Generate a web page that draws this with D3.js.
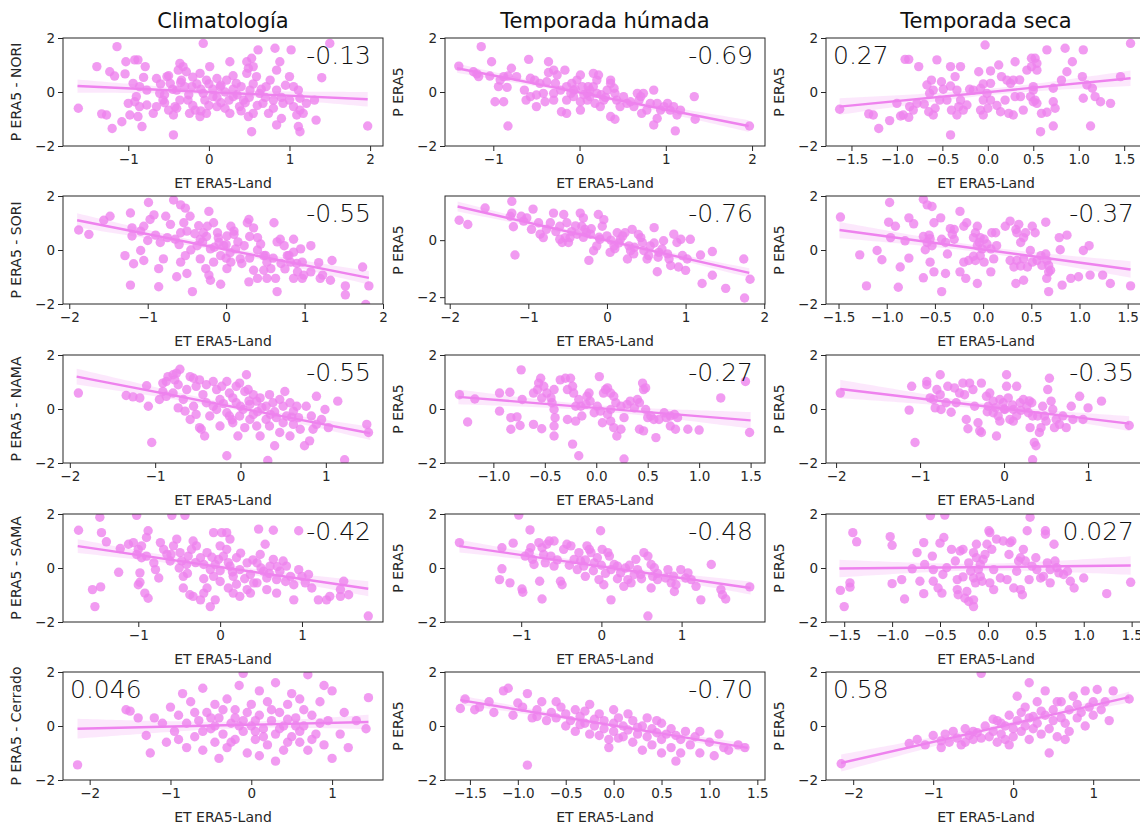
<!DOCTYPE html>
<html><head><meta charset="utf-8">
<script src="https://cdn.jsdelivr.net/npm/d3@7"></script>
<style>body{margin:0;background:#fff;overflow:hidden} text{font-family:"DejaVu Sans",sans-serif}</style>
</head><body><svg id="c" width="1140" height="825"></svg>
<script>
// ---------- DATA ----------
const titles = ["Climatología", "Temporada húmada", "Temporada seca"];
const rowLabels = ["P ERA5 - NORI", "P ERA5 - SORI", "P ERA5 - NAMA", "P ERA5  - SAMA", "P ERA5 - Cerrado"];
const otherYLabel = "P ERA5";
const xLabel = "ET ERA5-Land";
const corrLabels = ["-0.13","-0.69","0.27","-0.55","-0.76","-0.37","-0.55","-0.27","-0.35","-0.42","-0.48","0.027","0.046","-0.70","0.58"];
const corrSide = ["r","r","l","r","r","r","r","r","r","r","r","r","l","r","l"];

const xDomains = [[-1.81,2.16],[-1.56,2.15],[-1.78,1.74],[-2.08,2.0],[-2.06,2.01],[-1.63,1.69],[-2.08,1.67],[-1.47,1.64],[-2.12,1.69],[-1.92,1.99],[-1.95,2.04],[-1.69,1.65],[-2.33,1.63],[-1.76,1.58],[-2.34,1.66]];
const yDomains = [[-2,2],[-2,2],[-2,2],[-2,2],[-2.24,1.55],[-2,2],[-2,2],[-2,2],[-2,2],[-2,2],[-2,2],[-2,2],[-2,2],[-2,2],[-2,2]];
const tInt2 = [-2,-1,0,1,2], tHalf = [-1.5,-1,-0.5,0,0.5,1,1.5];
const xTicks = [[-1,0,1,2],[-1,0,1,2],tHalf,tInt2,tInt2,tHalf,[-2,-1,0,1],[-1,-0.5,0,0.5,1,1.5],[-2,-1,0,1],[-1,0,1],[-1,0,1],tHalf,[-2,-1,0,1],tHalf,[-2,-1,0,1]];
const xTickFmt = ["d","d",".1f","d","d",".1f","d",".1f","d","d","d",".1f","d",".1f","d"];
const yTicks = [[-2,0,2],[-2,0,2],[-2,0,2],[-2,0,2],[-2,0],[-2,0,2],[-2,0,2],[-2,0,2],[-2,0,2],[-2,0,2],[-2,0,2],[-2,0,2],[-2,0,2],[-2,0,2],[-2,0,2]];
// regression line ends [x0, y0, x1, y1]
const fits = [[-1.63,0.22,1.97,-0.27],[-1.42,0.88,1.96,-1.26],[-1.63,-0.54,1.57,0.51],
  [-1.9,1.1,1.82,-1.03],[-1.9,1.18,1.81,-1.15],[-1.49,0.74,1.53,-0.72],
  [-1.92,1.2,1.52,-0.9],[-1.34,0.45,1.5,-0.42],[-1.95,0.74,1.49,-0.54],
  [-1.74,0.81,1.81,-0.77],[-1.77,0.81,1.86,-0.74],[-1.55,-0.02,1.49,0.09],
  [-2.15,-0.1,1.45,0.15],[-1.6,0.96,1.4,-0.81],[-2.15,-1.37,1.45,1.07]];

const noriClim = [[-1.62,-0.6],[-1.39,0.94],[-1.14,1.68],[-1.33,-0.81],[-1.27,-0.85],[-1.2,-1.35],[-1.08,-1.1],[-1.23,0.75],[-1.17,0.59],[-1.03,1.12],[-1.04,0.67],[-0.92,1.19],[-0.88,1.19],[-1.0,-0.42],[-0.98,-0.85],[-0.83,-1.28],[-0.79,0.94],[-0.81,0.54],[-0.94,0.32],[-0.86,0.2],[-0.9,-0.17],[-0.77,0.07],[-0.92,-0.36],[-0.86,-0.54],[-0.77,-0.48],[-0.88,-0.91],[-0.69,-0.79],[-0.44,-0.85],[-0.44,-1.59],[-0.61,-0.05],[-0.52,0.57],[-0.65,-0.54],[-0.57,-0.3],[-0.48,0.32],[-0.4,0.07],[-0.36,-0.3],[-0.5,-0.67],[-0.42,-0.54],[-0.34,0.44],[-0.32,0.94],[-0.36,1.06],[-0.28,0.75],[-0.38,0.81],[-0.21,0.2],[-0.26,-0.3],[-0.17,-0.67],[-0.11,-0.91],[-0.24,-0.79],[-0.07,1.8],[-0.11,0.69],[-0.03,0.44],[0.01,0.94],[-0.07,-0.05],[0.05,-0.17],[0.1,-0.54],[-0.03,-0.79],[0.14,0.2],[0.22,0.44],[0.26,1.12],[0.3,-0.17],[0.38,-0.54],[0.26,-0.79],[0.34,0.32],[0.47,0.69],[0.43,-0.3],[0.51,0.07],[0.55,-0.79],[0.49,-0.91],[0.59,0.57],[0.47,1.12],[0.53,1.25],[0.49,0.88],[0.55,0.94],[0.63,-0.05],[0.67,-0.42],[0.71,0.2],[0.74,-0.79],[0.61,1.56],[0.82,1.62],[0.88,1.12],[0.84,0.81],[0.76,0.44],[0.84,0.07],[0.8,-0.3],[0.92,-0.42],[0.84,-1.22],[0.9,-0.98],[1.02,1.56],[1.0,0.57],[1.05,0.2],[1.11,0.07],[1.0,-0.3],[1.05,-0.54],[1.13,-0.67],[1.09,-0.85],[1.13,-0.23],[1.17,-0.79],[1.11,-1.28],[1.13,-1.47],[1.33,-1.04],[1.4,0.53],[1.31,-0.3],[1.21,-0.42],[1.97,-1.26],[1.5,1.8],[0.53,-1.47],[-0.6,0.3],[-0.55,-0.1],[-0.45,0.1],[-0.3,0.2],[-0.25,-0.1],[-0.15,0.3],[-0.1,0.1],[-0.05,-0.3],[0.0,0.3],[0.05,0.1],[0.1,-0.2],[0.15,-0.4],[0.2,0.0],[0.25,-0.3],[0.3,0.1],[0.35,-0.1],[0.4,0.2],[0.45,-0.4],[0.5,-0.2],[0.6,-0.5],[0.65,0.1],[0.7,-0.2],[0.2,-0.6],[0.0,-0.5],[-0.2,-0.5],[-0.4,-0.6],[-0.5,0.6],[-0.2,0.55],[0.1,0.5],[0.3,0.6],[-0.65,0.5],[0.8,-0.6],[0.9,-0.2],[0.95,0.25],[-0.35,0.35],[0.15,0.25],[0.4,-0.7],[-0.1,-0.7],[0.55,0.3],[-0.55,-0.4]];
const noriWet = [[-1.4,0.96],[-1.14,1.68],[-1.23,0.75],[-1.17,0.57],[-1.19,0.67],[-1.02,1.12],[-1.04,0.59],[-0.98,-0.36],[-0.88,-0.36],[-0.83,-1.26],[-0.94,0.2],[-0.92,0.44],[-0.84,0.17],[-0.79,0.88],[-0.83,0.59],[-0.88,0.57],[-0.59,1.21],[-0.62,-0.3],[-0.64,0.07],[-0.73,0.57],[-0.57,0.51],[-0.52,0.44],[-0.46,0.32],[-0.5,-0.11],[-0.42,-0.05],[-0.38,0.38],[-0.36,1.12],[-0.4,-0.36],[-0.3,-0.3],[-0.3,0.81],[-0.26,0.63],[-0.28,0.32],[-0.21,-0.73],[-0.22,0.07],[-0.15,0.2],[-0.09,0.32],[-0.03,0.44],[0.01,0.63],[0.03,0.2],[-0.07,-0.17],[-0.15,-0.3],[0.01,-0.36],[0.09,-0.05],[0.12,0.07],[0.16,0.2],[0.09,-0.3],[0.2,0.44],[0.22,0.63],[0.18,-0.42],[0.24,-0.54],[0.28,-0.3],[0.32,0.07],[0.36,0.44],[0.36,0.32],[0.4,0.14],[0.41,-0.05],[0.43,-0.3],[0.36,-0.91],[0.41,-1.01],[0.47,-0.54],[0.55,-0.42],[0.59,-0.36],[0.63,-0.54],[0.67,-0.05],[0.71,-0.17],[0.69,-0.3],[0.74,-0.05],[0.72,-0.79],[0.78,-0.67],[0.82,-0.42],[0.86,0.07],[0.9,-0.42],[0.94,-0.67],[0.98,-0.54],[0.86,-1.22],[0.9,-0.98],[1.02,-0.42],[1.05,-0.67],[1.09,-0.54],[1.13,-0.85],[1.17,-0.67],[1.11,-1.44],[1.33,-0.17],[1.34,-1.01],[1.97,-1.26],[-0.57,-0.17],[-0.15,-0.79],[0.01,-0.67],[-0.3,-0.05],[-0.5,-0.54],[0.16,0.69],[-0.17,0.81],[-0.36,0.72],[0.2,-0.05],[0.51,-0.17],[-0.07,0.07],[0.12,-0.17],[-0.05,0.1],[0.05,-0.1],[0.1,0.2],[-0.1,-0.05],[0.25,-0.1],[0.3,-0.2]];
const noriDry = [[-1.63,-0.64],[-1.31,-0.81],[-1.26,-0.85],[-1.2,-1.35],[-1.08,-1.06],[-1.0,-0.42],[-0.96,-0.89],[-0.93,-0.85],[-0.87,-0.94],[-0.91,1.21],[-0.87,1.21],[-0.76,0.94],[-0.86,-0.54],[-0.78,-0.42],[-0.82,-0.67],[-0.67,0.26],[-0.62,0.44],[-0.6,0.07],[-0.64,-0.05],[-0.65,-0.73],[-0.6,-0.85],[-0.58,-0.6],[-0.51,0.38],[-0.49,0.1],[-0.53,-0.3],[-0.56,1.19],[-0.41,0.94],[-0.3,0.94],[-0.36,0.57],[-0.41,0.22],[-0.34,0.07],[-0.3,-0.3],[-0.4,-0.67],[-0.32,-0.54],[-0.27,-0.67],[-0.34,-0.85],[-0.23,-0.48],[-0.41,-1.59],[-0.16,0.07],[-0.08,0.14],[-0.01,-0.05],[-0.1,0.75],[-0.05,-0.3],[0.03,0.32],[0.03,-0.3],[-0.08,-0.67],[-0.03,1.74],[0.03,0.78],[-0.05,-0.85],[0.12,1.0],[0.15,0.57],[0.21,0.44],[0.28,0.44],[0.25,0.32],[0.14,-0.73],[0.23,-0.79],[0.28,-0.85],[0.19,-0.3],[0.3,-0.17],[0.36,-0.17],[0.3,1.12],[0.39,-0.67],[0.43,0.81],[0.48,1.25],[0.52,1.25],[0.54,1.06],[0.54,0.81],[0.48,0.94],[0.5,0.2],[0.5,0.07],[0.47,-0.17],[0.52,-0.3],[0.54,-0.42],[0.5,-0.36],[0.58,-1.47],[0.59,-0.79],[0.65,1.56],[0.72,0.14],[0.72,-0.36],[0.74,-0.6],[0.72,-1.26],[0.81,0.44],[0.85,1.62],[0.87,0.75],[0.93,1.12],[1.04,0.57],[1.05,-0.23],[1.05,1.56],[1.09,0.26],[1.15,0.14],[1.18,-0.17],[1.24,-0.36],[1.35,-0.42],[1.13,-1.26],[1.46,0.57],[1.57,1.8],[-0.2,0.1],[-0.05,0.3],[0.1,-0.5],[0.35,0.45],[-0.45,-0.3],[0.65,-0.75],[0.0,-0.6],[-0.7,-0.45]];

const soriClim = [[-1.88,0.74],[-1.75,0.58],[-1.56,1.1],[-1.48,1.25],[-1.22,1.37],[-1.29,-0.21],[-1.18,-0.51],[-1.22,-1.3],[-1.2,0.82],[-1.2,0.52],[-1.09,0.7],[-1.05,0.88],[-0.99,1.76],[-0.97,1.13],[-0.92,1.3],[-1.09,-0.02],[-1.05,-0.39],[-0.86,-0.69],[-0.86,-1.36],[-0.8,-0.33],[-0.84,0.28],[-0.75,0.46],[-0.71,0.95],[-0.77,1.25],[-0.67,1.85],[-0.58,1.67],[-0.52,1.55],[-0.46,1.25],[-0.54,1.01],[-0.5,0.7],[-0.58,0.64],[-0.65,0.4],[-0.63,-0.99],[-0.5,-0.87],[-0.58,-0.45],[-0.52,-0.21],[-0.43,-1.54],[-0.37,0.16],[-0.33,0.4],[-0.29,0.64],[-0.24,0.88],[-0.22,1.43],[-0.16,1.01],[-0.11,0.64],[-0.09,0.28],[-0.2,0.04],[-0.33,-0.33],[-0.26,-0.69],[-0.22,-0.93],[-0.2,-1.12],[-0.07,-1.27],[-0.16,-0.45],[-0.07,-0.21],[-0.03,0.16],[0.01,0.52],[0.06,0.88],[0.1,0.58],[0.12,0.04],[0.06,-0.45],[0.01,-0.69],[0.18,-0.33],[0.23,0.16],[0.27,1.01],[0.29,1.13],[0.35,0.82],[0.4,0.46],[0.44,0.22],[0.48,-0.21],[0.52,-0.45],[0.48,-0.75],[0.35,-0.75],[0.29,-1.18],[0.4,-1.05],[0.52,-1.05],[0.57,-0.69],[0.63,-1.05],[0.65,-1.54],[0.61,1.01],[0.69,0.4],[0.74,0.16],[0.78,-0.21],[0.82,-0.45],[0.86,-0.08],[0.86,0.4],[0.95,0.04],[0.97,-0.45],[0.91,-0.81],[0.86,-1.05],[0.97,-1.05],[0.99,-0.93],[1.08,0.16],[1.08,-0.81],[1.18,-0.47],[1.23,-0.93],[1.33,-1.12],[1.35,-0.39],[1.52,-1.33],[1.52,-1.66],[1.74,-0.63],[1.78,-2.02],[1.82,-1.33],[1.2,-1.05],[-0.4,0.6],[-0.3,0.3],[-0.45,0.0],[-0.1,0.45],[0.0,0.2],[0.05,-0.1],[0.15,0.3],[0.2,-0.5],[0.3,-0.3],[0.4,0.0],[0.5,-0.2],[0.6,-0.3],[0.65,0.3],[0.7,-0.5],[0.75,-0.7],[0.8,-0.2],[0.9,-0.5],[-0.25,0.5],[-0.6,0.2],[-0.9,0.55],[-1.0,0.35],[0.0,-0.3],[-0.15,0.1],[0.1,0.7],[0.3,0.5],[-0.35,0.9]];
const soriWet = [[-1.88,0.7],[-1.77,0.55],[-1.55,1.13],[-1.21,1.36],[-1.23,0.84],[-1.19,0.47],[-1.21,0.95],[-1.06,0.67],[-1.02,0.78],[-1.09,0.84],[-0.94,1.09],[-1.17,-0.52],[-0.96,0.38],[-0.87,0.61],[-0.85,0.21],[-0.81,0.09],[-0.77,0.38],[-0.68,0.95],[-0.72,0.61],[-0.6,0.49],[-0.55,0.9],[-0.51,0.61],[-0.53,0.09],[-0.57,-0.08],[-0.6,0.03],[-0.49,-0.08],[-0.47,0.09],[-0.38,0.21],[-0.34,0.95],[-0.3,0.78],[-0.32,0.49],[-0.28,0.38],[-0.26,0.26],[-0.21,0.21],[-0.23,-0.71],[-0.17,-0.37],[-0.13,-0.2],[-0.09,0.03],[-0.11,0.9],[-0.04,0.72],[-0.06,0.49],[0.0,0.15],[0.04,-0.43],[0.09,-0.2],[0.13,0.26],[0.17,0.03],[0.23,0.26],[0.26,-0.66],[0.28,-0.2],[0.3,-0.37],[0.34,-0.48],[0.32,0.38],[0.43,0.09],[0.45,-0.08],[0.47,-0.37],[0.51,-0.66],[0.55,-0.2],[0.53,-0.54],[0.6,0.44],[0.64,-1.11],[0.66,-0.43],[0.7,-0.31],[0.72,-0.02],[0.77,-0.48],[0.79,-0.66],[0.81,-0.89],[0.85,0.21],[0.89,-0.08],[0.91,-0.94],[0.94,0.03],[0.96,-0.54],[1.0,-1.06],[1.02,-0.66],[1.06,0.03],[1.19,-0.52],[1.21,-1.52],[1.34,-1.23],[1.34,-0.4],[1.51,-1.69],[1.75,-2.03],[1.74,-0.66],[1.82,-1.37],[-0.4,0.5],[-0.2,0.4],[-0.1,0.1],[0.05,0.0],[0.15,-0.1],[0.2,0.15],[0.35,-0.25],[0.4,0.2],[-0.45,0.3],[0.6,-0.1],[0.65,-0.6],[-0.65,0.3],[0.1,-0.3],[-0.3,0.1]];
const soriDry = [[-1.48,1.22],[-1.28,-0.18],[-1.21,-1.33],[-1.1,-0.02],[-1.05,-0.36],[-0.97,1.76],[-0.98,1.03],[-0.91,0.88],[-0.96,0.46],[-0.88,-1.38],[-0.86,-0.63],[-0.81,0.34],[-0.77,-0.3],[-0.77,1.19],[-0.72,0.97],[-0.62,1.88],[-0.58,1.67],[-0.53,1.61],[-0.62,0.5],[-0.56,0.55],[-0.55,0.42],[-0.58,0.28],[-0.6,0.01],[-0.53,0.16],[-0.62,-1.03],[-0.55,-0.45],[-0.51,-0.81],[-0.51,1.01],[-0.44,1.19],[-0.43,-1.54],[-0.43,0.4],[-0.39,0.28],[-0.37,-0.15],[-0.39,-0.87],[-0.34,0.79],[-0.3,0.76],[-0.32,0.58],[-0.3,0.4],[-0.24,1.43],[-0.2,0.88],[-0.17,1.01],[-0.24,-0.81],[-0.2,-0.45],[-0.18,-1.05],[-0.15,-0.39],[-0.1,-0.23],[-0.1,0.46],[-0.08,0.64],[-0.06,0.88],[-0.06,0.16],[-0.04,0.28],[-0.03,0.46],[-0.01,0.04],[0.01,0.4],[0.04,0.22],[0.08,0.04],[-0.03,-0.21],[-0.08,-0.39],[-0.06,-1.24],[0.01,-0.45],[0.09,0.64],[0.13,0.64],[0.14,0.16],[0.08,-0.81],[0.11,-0.33],[0.23,0.88],[0.28,1.07],[0.34,0.76],[0.35,0.64],[0.37,0.95],[0.39,0.28],[0.42,0.46],[0.44,0.64],[0.51,0.88],[0.54,0.64],[0.49,-0.02],[0.42,-0.33],[0.35,-0.39],[0.28,-0.39],[0.32,-0.63],[0.39,-0.59],[0.34,-1.24],[0.42,-1.12],[0.46,-0.63],[0.51,-0.45],[0.56,-0.39],[0.6,-0.21],[0.61,-0.57],[0.65,-0.15],[0.66,-0.39],[0.68,-0.81],[0.66,-1.05],[0.68,-1.54],[0.65,1.03],[0.68,-0.57],[0.7,-0.75],[0.79,0.46],[0.87,0.55],[0.8,0.01],[0.82,-1.3],[0.91,-1.05],[0.99,-0.99],[1.04,-0.02],[1.1,0.16],[1.11,-0.93],[1.24,-0.93],[1.32,-1.24],[1.53,-1.33]];

const namaClim = [[-1.9,0.59],[-1.34,0.5],[-1.26,0.45],[-1.18,0.41],[-1.1,0.86],[-1.08,0.1],[-1.04,-1.24],[-0.95,0.35],[-0.91,0.96],[-0.87,1.02],[-0.85,1.2],[-0.79,1.27],[-0.77,1.08],[-0.75,1.33],[-0.71,1.47],[-0.73,0.9],[-0.79,0.59],[-0.87,0.47],[-0.91,0.65],[-0.73,0.04],[-0.67,0.35],[-0.65,-0.08],[-0.63,0.72],[-0.59,1.2],[-0.55,1.14],[-0.52,0.84],[-0.48,1.08],[-0.44,0.53],[-0.4,0.23],[-0.4,0.9],[-0.32,1.02],[-0.28,0.72],[-0.22,0.84],[-0.16,1.02],[-0.13,0.59],[-0.09,0.41],[-0.05,0.84],[-0.01,0.96],[0.07,1.27],[0.05,0.65],[0.09,0.72],[0.15,0.53],[0.19,0.29],[0.23,0.41],[0.3,0.1],[0.34,0.53],[0.38,0.23],[0.46,0.35],[0.52,0.65],[0.58,0.23],[0.62,-0.08],[0.66,0.1],[0.68,-0.32],[0.7,-0.75],[0.77,0.1],[0.83,-0.26],[0.89,0.47],[0.95,-0.39],[0.99,-0.02],[1.03,-0.69],[1.14,0.29],[1.22,-1.88],[1.48,-0.57],[1.5,-0.87],[-0.59,-0.39],[-0.52,-0.2],[-0.48,-0.69],[-0.42,-1.0],[-0.46,-0.75],[-0.36,-0.26],[-0.28,-0.02],[-0.24,-0.63],[-0.16,-0.14],[-0.13,-0.26],[-0.09,-0.51],[-0.03,-1.0],[-0.01,-0.26],[0.03,-0.02],[0.05,-0.69],[0.11,-0.39],[0.15,-0.2],[0.19,-0.63],[0.23,-1.0],[0.3,-0.39],[0.34,-0.63],[0.4,-1.36],[0.42,-0.32],[0.46,-0.87],[0.5,-0.51],[0.54,-0.26],[0.58,-1.0],[0.62,-0.57],[0.75,-1.36],[0.81,-1.18],[0.85,-0.75],[0.89,-0.57],[-0.16,-1.73],[0.32,-1.91],[-0.32,0.1],[-0.05,0.23],[0.11,0.17],[-0.55,0.1],[-0.24,0.35],[0.0,0.1],[0.2,-0.1],[0.25,0.05],[-0.2,0.2],[0.4,-0.1],[0.5,0.1],[0.6,-0.3],[0.1,0.3],[-0.1,-0.4],[0.35,-0.2]];
const namaWet = [[-1.33,0.53],[-1.25,-0.48],[-1.18,0.37],[-0.94,0.59],[-0.84,0.62],[-0.94,-0.08],[-0.83,-0.32],[-0.77,-0.29],[-0.83,-0.75],[-0.74,-0.61],[-0.72,0.35],[-0.73,1.45],[-0.61,-0.57],[-0.53,-0.73],[-0.61,0.59],[-0.57,0.72],[-0.56,0.96],[-0.54,1.14],[-0.51,0.84],[-0.53,0.41],[-0.48,0.59],[-0.44,0.41],[-0.41,0.72],[-0.43,0.23],[-0.41,-0.02],[-0.4,-0.32],[-0.41,-0.63],[-0.41,-1.0],[-0.35,1.08],[-0.3,1.14],[-0.25,1.14],[-0.28,0.72],[-0.23,0.84],[-0.22,0.59],[-0.2,0.1],[-0.17,0.35],[-0.15,0.1],[-0.14,-0.26],[-0.2,-0.45],[-0.23,-1.3],[-0.17,-1.73],[-0.28,-0.39],[-0.1,0.17],[-0.09,0.47],[-0.07,0.59],[-0.06,0.29],[-0.02,-0.14],[0.03,1.2],[0.01,0.1],[0.04,-0.08],[0.06,-0.51],[0.07,0.59],[0.09,0.72],[0.11,0.78],[0.14,0.59],[0.17,0.47],[0.19,0.23],[0.14,-0.02],[0.11,-0.2],[0.14,-0.45],[0.17,-0.69],[0.2,-1.0],[0.24,-0.75],[0.27,-0.32],[0.24,0.1],[0.3,0.17],[0.33,0.29],[0.37,0.04],[0.4,0.35],[0.42,0.23],[0.45,0.96],[0.46,0.72],[0.48,0.78],[0.42,-0.75],[0.46,-0.81],[0.5,-0.32],[0.48,-0.02],[0.53,-0.26],[0.56,-0.39],[0.58,-1.06],[0.61,-0.39],[0.66,-0.14],[0.68,-0.32],[0.72,-0.26],[0.76,-0.2],[0.79,-0.32],[0.72,-0.63],[0.77,-0.75],[0.89,-0.75],[1.0,-0.78],[1.21,0.41],[1.45,1.02],[1.49,-0.87],[0.27,-1.85]];
const namaDry = [[-1.95,0.59],[-1.13,-0.04],[-1.1,0.84],[-1.06,-1.24],[-0.92,1.02],[-0.92,0.9],[-0.88,0.41],[-0.84,0.35],[-0.82,0.04],[-0.8,0.72],[-0.76,1.27],[-0.76,0.53],[-0.75,-0.02],[-0.69,0.23],[-0.67,0.84],[-0.63,-0.12],[-0.59,0.78],[-0.57,0.23],[-0.53,0.59],[-0.49,0.96],[-0.47,0.53],[-0.45,-0.39],[-0.43,-0.73],[-0.41,0.96],[-0.37,0.72],[-0.35,0.1],[-0.31,-0.51],[-0.29,-0.81],[-0.27,-0.87],[-0.27,0.96],[-0.21,0.47],[-0.19,0.1],[-0.17,0.59],[-0.13,0.29],[-0.13,-0.14],[-0.09,-1.0],[-0.07,-0.26],[-0.05,-0.45],[-0.01,0.23],[0.01,-0.02],[0.03,0.84],[0.03,1.27],[0.05,0.41],[0.07,-0.39],[0.11,-0.02],[0.15,0.84],[0.11,-0.45],[0.19,0.23],[0.23,0.35],[0.27,0.1],[0.29,-0.14],[0.31,-0.69],[0.33,0.23],[0.34,-0.26],[0.36,-1.24],[0.38,-1.36],[0.4,-0.26],[0.42,-0.87],[0.44,-0.69],[0.46,0.1],[0.48,-0.26],[0.5,-0.45],[0.52,0.72],[0.54,1.14],[0.56,0.29],[0.58,-0.02],[0.6,-0.69],[0.62,-0.39],[0.66,-0.57],[0.7,-0.26],[0.74,-0.69],[0.8,0.1],[0.82,-0.39],[0.9,0.47],[0.94,-0.39],[1.0,0.04],[1.16,0.29],[1.49,-0.61],[0.34,-1.88],[0.0,0.0],[0.1,0.15],[-0.05,0.35],[0.2,-0.05],[-0.2,-0.1],[0.3,0.3],[0.15,-0.25],[-0.1,0.05]];

const samaClim = [[-1.73,1.4],[-1.47,1.88],[-1.45,1.31],[-1.39,0.97],[-1.56,-0.8],[-1.46,-0.7],[-1.53,-1.43],[-1.24,-0.16],[-1.22,0.72],[-1.12,0.88],[-1.06,0.94],[-1.02,1.95],[-1.0,0.69],[-0.96,0.82],[-0.9,1.13],[-0.88,1.38],[-0.9,0.44],[-0.96,0.38],[-1.02,0.5],[-1.0,-0.62],[-0.98,-0.53],[-0.92,-0.93],[-0.88,-1.12],[-0.98,-0.18],[-0.81,0.19],[-0.79,-0.06],[-0.75,-0.37],[-0.73,0.94],[-0.69,0.69],[-0.65,0.5],[-0.61,0.26],[-0.57,0.82],[-0.53,1.07],[-0.49,0.57],[-0.47,0.26],[-0.45,-0.31],[-0.41,0.13],[-0.39,0.44],[-0.35,0.69],[-0.33,1.0],[-0.29,0.82],[-0.24,0.38],[-0.2,0.13],[-0.16,0.57],[-0.12,-0.06],[-0.08,-0.31],[-0.06,0.13],[-0.02,0.32],[0.0,0.82],[0.04,0.44],[0.08,0.69],[0.12,0.07],[0.16,-0.31],[0.2,0.38],[0.24,-0.06],[0.33,0.19],[0.37,-0.24],[0.41,-0.55],[0.45,0.19],[0.49,0.5],[0.53,-0.12],[0.57,-0.37],[0.61,0.07],[0.65,0.32],[0.69,-0.43],[0.73,-0.12],[0.77,0.26],[0.81,0.07],[0.86,-0.31],[0.9,-0.62],[0.96,-0.06],[1.0,-0.31],[1.04,-0.55],[1.08,-0.24],[1.12,-0.74],[-0.45,-0.74],[-0.37,-0.99],[-0.33,-1.05],[-0.24,-1.18],[-0.2,-0.93],[-0.16,-0.74],[-0.12,-1.43],[-0.06,-1.18],[0.1,-0.74],[0.16,-0.93],[0.24,-1.05],[0.33,-0.8],[0.37,-0.93],[0.45,-0.55],[0.57,-0.8],[0.69,-0.93],[0.9,-1.18],[-0.59,1.95],[-0.43,1.95],[-0.08,1.31],[0.02,1.31],[0.08,1.31],[0.12,1.07],[0.47,1.44],[0.65,1.4],[0.96,1.38],[0.55,0.88],[1.2,-1.18],[1.3,-1.18],[1.34,-1.05],[1.47,-0.8],[1.47,-1.05],[1.57,-0.99],[1.51,-0.49],[1.81,-1.78],[-0.3,0.2],[-0.1,0.4],[0.0,-0.1],[0.1,0.2],[0.3,-0.4],[0.5,0.0],[0.2,-0.6],[-0.2,-0.4],[0.4,0.3],[0.6,-0.2],[-0.5,0.0],[0.0,-0.5],[0.8,-0.5],[-0.6,0.5],[0.25,0.55],[-0.4,-0.2],[0.7,0.05],[0.15,-0.15]];
const samaWet = [[-1.77,0.94],[-1.24,0.75],[-1.24,-0.03],[-1.27,-0.43],[-1.14,-0.55],[-1.1,0.92],[-1.03,1.96],[-0.99,-0.78],[-0.98,-0.9],[-0.95,0.44],[-0.9,0.57],[-0.88,0.75],[-0.86,0.32],[-0.84,0.13],[-0.89,1.41],[-0.77,-0.49],[-0.74,-1.15],[-0.78,0.94],[-0.74,0.75],[-0.72,0.5],[-0.68,0.88],[-0.65,1.0],[-0.59,1.0],[-0.63,0.44],[-0.7,0.19],[-0.59,0.07],[-0.51,-0.49],[-0.49,-0.62],[-0.47,0.69],[-0.43,0.88],[-0.38,0.82],[-0.34,0.32],[-0.3,-0.06],[-0.28,0.57],[-0.26,0.26],[-0.22,0.07],[-0.2,-0.31],[-0.18,0.82],[-0.15,0.69],[-0.13,0.57],[-0.09,0.19],[-0.05,0.38],[-0.03,-0.43],[-0.01,1.38],[0.01,0.69],[0.03,-0.62],[0.08,0.57],[0.1,0.44],[0.12,-0.06],[0.12,-1.18],[0.16,0.13],[0.2,0.07],[0.24,-0.18],[0.28,-0.68],[0.33,-0.43],[0.37,-0.55],[0.41,-0.24],[0.43,0.32],[0.45,-0.06],[0.49,-0.24],[0.53,0.57],[0.58,0.44],[0.62,0.13],[0.64,-0.31],[0.62,-0.74],[0.66,0.01],[0.7,-0.43],[0.8,-0.37],[0.83,-0.06],[0.87,-0.55],[0.91,-0.87],[0.93,-0.62],[0.99,-0.06],[1.05,-0.37],[1.08,-0.18],[1.12,-0.43],[1.18,-0.68],[1.24,-1.18],[1.37,0.13],[1.49,-0.8],[1.51,-0.99],[1.55,-1.15],[1.85,-0.7],[0.58,-1.78],[-0.4,0.1],[-0.2,0.3],[0.0,0.1],[0.05,-0.2],[0.3,0.0],[0.2,-0.4],[-0.1,-0.1],[0.5,-0.4],[0.35,0.1],[-0.55,0.3],[0.7,-0.2],[0.9,-0.3]];
const samaDry = [[-1.54,-0.83],[-1.5,-1.43],[-1.44,-0.55],[-1.44,-0.71],[-1.41,1.31],[-1.37,0.97],[-1.02,1.16],[-1.0,0.84],[-1.0,-0.58],[-0.9,-0.43],[-0.87,-1.15],[-0.79,-0.03],[-0.74,0.57],[-0.71,-0.49],[-0.67,-0.95],[-0.66,0.13],[-0.67,0.94],[-0.58,0.44],[-0.57,-0.06],[-0.57,-0.49],[-0.52,-0.74],[-0.48,-0.93],[-0.5,0.92],[-0.46,1.13],[-0.47,-0.24],[-0.43,0.01],[-0.6,1.94],[-0.45,1.96],[-0.38,0.69],[-0.34,0.26],[-0.32,-0.43],[-0.32,-0.8],[-0.31,-0.99],[-0.29,0.63],[-0.26,0.69],[-0.26,-0.33],[-0.22,-0.87],[-0.24,-1.12],[-0.2,-1.24],[-0.15,-1.18],[-0.15,-1.43],[-0.2,0.19],[-0.18,-0.12],[-0.15,-0.37],[-0.13,-0.55],[-0.15,0.57],[-0.12,0.38],[-0.12,0.88],[-0.1,-0.06],[-0.08,-0.31],[-0.06,-0.49],[-0.08,0.13],[-0.05,0.32],[-0.03,0.5],[-0.01,0.88],[0.01,1.38],[0.02,1.31],[0.04,0.69],[0.06,-0.06],[0.02,-0.55],[0.06,-0.8],[0.09,1.07],[0.13,-0.37],[0.16,1.0],[0.2,-0.43],[0.22,0.5],[0.23,0.94],[0.25,1.0],[0.27,-0.74],[0.3,-0.12],[0.32,0.26],[0.34,0.38],[0.34,-0.8],[0.36,-0.99],[0.37,0.69],[0.39,0.26],[0.41,1.38],[0.43,-0.43],[0.44,1.88],[0.46,0.07],[0.5,0.38],[0.51,-0.06],[0.55,-0.37],[0.58,-0.31],[0.6,1.38],[0.6,1.25],[0.62,0.19],[0.65,-0.06],[0.65,-0.55],[0.69,0.88],[0.7,0.26],[0.72,0.01],[0.74,-0.18],[0.79,-0.24],[0.83,-0.12],[0.86,-0.49],[0.9,-0.74],[1.0,-0.37],[1.24,-0.95],[1.49,-0.53]];

const cerrClim = [[-2.15,-1.44],[-1.55,0.6],[-1.5,0.55],[-1.3,-0.35],[-1.25,-1.0],[-1.2,0.3],[-1.1,0.1],[-1.05,-0.6],[-1.0,0.7],[-0.95,-0.2],[-0.9,0.4],[-0.85,1.2],[-0.8,-0.8],[-0.75,0.9],[-0.7,-0.4],[-0.65,0.2],[-0.6,1.4],[-0.6,-0.9],[-0.55,0.5],[-0.5,-0.1],[-0.45,0.8],[-0.45,-0.6],[-0.4,0.3],[-0.35,-0.3],[-0.3,1.0],[-0.3,-0.8],[-0.25,0.1],[-0.2,0.6],[-0.2,-0.5],[-0.15,1.5],[-0.1,0.2],[-0.1,-0.2],[-0.05,-1.0],[0.0,0.8],[0.0,0.0],[0.05,-0.5],[0.1,0.4],[0.1,1.3],[0.15,-0.1],[0.2,0.9],[0.2,-0.7],[0.25,0.2],[0.3,-0.3],[0.3,1.6],[0.35,0.5],[0.4,-0.9],[0.4,0.0],[0.45,0.8],[0.5,-0.4],[0.5,1.2],[0.55,0.3],[0.6,-0.6],[0.6,1.0],[0.65,0.0],[0.7,-0.9],[0.7,1.9],[0.75,0.4],[0.8,-0.3],[0.85,0.9],[0.9,-0.7],[0.95,0.2],[1.0,-1.2],[1.0,1.3],[1.1,-0.3],[1.15,0.5],[1.2,-0.8],[1.3,0.2],[1.45,1.05],[1.42,-0.1],[-0.9,-0.5],[-0.7,0.5],[-0.5,0.3],[-0.35,0.6],[-0.25,-0.6],[-0.05,0.5],[0.05,0.2],[0.15,-0.4],[0.25,0.6],[0.35,-0.1],[0.45,-0.6],[0.55,0.0],[0.65,0.6],[0.75,-0.5],[0.85,0.1],[-0.15,0.0],[-0.6,-0.2],[0.3,-1.3],[-0.1,1.95],[-1.4,0.3],[-0.8,0.1],[0.1,-1.1],[0.9,1.5],[-0.4,-1.2],[0.05,-0.2],[-0.2,0.3],[0.45,0.25],[0.6,-0.2],[-0.45,0.0]];
const cerrWet = [[-1.6,0.65],[-1.55,1.0],[-1.45,0.6],[-1.3,0.9],[-1.25,0.5],[-1.15,1.3],[-1.1,1.4],[-1.05,0.4],[-1.0,0.85],[-0.95,0.7],[-0.9,1.2],[-0.85,0.3],[-0.9,-1.45],[-0.8,0.6],[-0.75,0.9],[-0.7,0.2],[-0.65,0.5],[-0.6,0.3],[-0.55,0.7],[-0.5,0.0],[-0.5,0.45],[-0.45,0.2],[-0.4,0.6],[-0.4,-0.2],[-0.35,0.35],[-0.3,0.1],[-0.3,0.55],[-0.25,-0.3],[-0.2,0.25],[-0.2,0.0],[-0.15,0.45],[-0.1,-0.1],[-0.1,0.2],[-0.05,-0.5],[0.0,0.1],[0.0,-0.2],[0.05,0.3],[0.1,-0.4],[0.1,0.0],[0.15,-0.15],[0.2,0.2],[0.2,-0.6],[0.25,-0.3],[0.3,0.0],[0.3,-0.9],[0.35,-0.4],[0.4,-0.1],[0.4,-0.7],[0.45,0.2],[0.5,-0.5],[0.5,-1.0],[0.55,-0.3],[0.6,-0.1],[0.6,-0.8],[0.65,-1.3],[0.7,-0.5],[0.75,-0.2],[0.8,-0.7],[0.85,-0.4],[0.9,-1.0],[1.0,-0.6],[1.05,-1.1],[1.1,-0.3],[1.15,-0.8],[1.2,-0.9],[1.3,-0.7],[1.37,-0.8],[-1.4,0.7],[0.0,0.6],[-0.6,0.9],[0.15,0.45],[0.5,0.1],[0.9,-0.2],[0.35,0.3],[-0.25,0.8],[0.7,-1.0],[-0.05,-0.8],[-0.8,0.35],[-0.15,-0.35],[0.25,-0.05],[0.45,-0.25],[0.05,-0.45],[-0.35,0.05],[0.65,-0.35]];
const cerrDry = [[-2.15,-1.4],[-1.3,-0.65],[-1.2,-0.5],[-1.1,-0.7],[-1.0,-0.35],[-0.9,-0.55],[-0.85,-0.3],[-0.8,-0.6],[-0.75,-0.2],[-0.7,-0.45],[-0.6,-0.1],[-0.6,-0.6],[-0.55,-0.35],[-0.5,-0.5],[-0.45,-0.25],[-0.4,-0.45],[-0.35,0.0],[-0.3,-0.4],[-0.4,1.95],[-0.25,-0.2],[-0.2,0.2],[-0.2,-0.6],[-0.15,-0.3],[-0.1,0.0],[-0.1,-0.5],[-0.05,0.4],[0.0,-0.1],[0.0,-0.4],[0.05,0.2],[0.05,1.1],[0.1,-0.2],[0.1,0.5],[0.15,0.0],[0.2,-0.5],[0.2,0.3],[0.25,-0.1],[0.3,0.9],[0.3,0.1],[0.35,-0.3],[0.4,0.4],[0.4,1.3],[0.45,-0.1],[0.5,0.6],[0.5,0.2],[0.55,-0.4],[0.6,0.3],[0.6,0.9],[0.65,0.1],[0.7,0.6],[0.7,-0.2],[0.75,1.1],[0.8,0.3],[0.8,0.8],[0.85,0.5],[0.9,1.3],[0.9,0.0],[0.95,0.7],[1.0,0.4],[1.05,1.35],[1.1,0.6],[1.15,0.9],[1.2,0.2],[1.25,1.3],[1.45,1.0],[-0.25,0.25],[0.45,-1.0],[0.2,1.6],[-0.65,-0.7],[0.15,0.7],[-0.05,-0.7],[-0.9,-0.8],[-0.5,-0.2],[0.35,0.55],[0.65,-0.5],[1.0,0.9],[0.25,0.35],[-0.15,0.1],[0.55,0.9]];

const panelData = [noriClim, noriWet, noriDry, soriClim, soriWet, soriDry, namaClim, namaWet, namaDry, samaClim, samaWet, samaDry, cerrClim, cerrWet, cerrDry];

// ---------- LAYOUT ----------
const colLeft = [63, 445, 826], rowTop = [38, 196, 355, 514, 672], W = 320, H = 108;
const color = "violet", ink = "#262626";
const svg = d3.select("#c");
const defs = svg.append("defs");

titles.forEach((t, c) => {
  svg.append("text").attr("x", colLeft[c] + W / 2).attr("y", 28)
    .attr("text-anchor", "middle").attr("font-size", 21).attr("fill", "#111").text(t);
});

panelData.forEach((pts, i) => {
  const r = Math.floor(i / 3), c = i % 3;
  const x = d3.scaleLinear().domain(xDomains[i]).range([0, W]);
  const y = d3.scaleLinear().domain(yDomains[i]).range([H, 0]);
  const g = svg.append("g").attr("transform", `translate(${colLeft[c]},${rowTop[r]})`);
  defs.append("clipPath").attr("id", "clip" + i).append("rect").attr("width", W).attr("height", H);
  const plot = g.append("g").attr("clip-path", `url(#clip${i})`);

  plot.selectAll("circle").data(pts).join("circle")
    .attr("cx", d => x(d[0])).attr("cy", d => y(d[1])).attr("r", 4.7)
    .attr("fill", color).attr("fill-opacity", 0.8);

  // regression line + confidence band
  const [x0, y0, x1, y1] = fits[i];
  const slope = (y1 - y0) / (x1 - x0), icpt = y0 - slope * x0;
  const n = pts.length, xm = d3.mean(pts, d => d[0]);
  const sxx = d3.sum(pts, d => (d[0] - xm) ** 2);
  const s = Math.sqrt(d3.sum(pts, d => (d[1] - (icpt + slope * d[0])) ** 2) / (n - 2));
  const xs = d3.range(61).map(k => x0 + (x1 - x0) * k / 60);
  const band = xs.map(v => { const hw = 1.97 * s * Math.sqrt(1 / n + (v - xm) ** 2 / sxx) * 0.8; const m = icpt + slope * v; return [v, m - hw, m + hw]; });
  plot.append("path").datum(band)
    .attr("d", d3.area().x(d => x(d[0])).y0(d => y(d[1])).y1(d => y(d[2])))
    .attr("fill", color).attr("fill-opacity", 0.18);
  plot.append("path").datum([[x0, y0], [x1, y1]])
    .attr("d", d3.line().x(d => x(d[0])).y(d => y(d[1])))
    .attr("stroke", color).attr("stroke-width", 2.4).attr("fill", "none");

  // axes
  const ax = g.append("g").attr("transform", `translate(0,${H})`)
    .call(d3.axisBottom(x).tickValues(xTicks[i]).tickFormat(d3.format(xTickFmt[i])).tickSize(5).tickPadding(3));
  const ay = g.append("g")
    .call(d3.axisLeft(y).tickValues(yTicks[i]).tickFormat(d3.format("d")).tickSize(5).tickPadding(3));
  [ax, ay].forEach(a => {
    a.select(".domain").remove();
    a.selectAll("line").attr("stroke", ink);
    a.selectAll("text").attr("font-family", "DejaVu Sans").attr("font-size", 13.5).attr("fill", ink);
  });
  g.append("rect").attr("width", W).attr("height", H).attr("fill", "none").attr("stroke", ink).attr("stroke-width", 1);

  // labels
  g.append("text").attr("x", W / 2).attr("y", H + 42).attr("text-anchor", "middle")
    .attr("font-size", 14).attr("fill", ink).text(xLabel);
  g.append("text").attr("transform", `translate(-42,${H / 2}) rotate(-90)`).attr("text-anchor", "middle")
    .attr("font-size", 14).attr("fill", ink).text(c === 0 ? rowLabels[r] : otherYLabel);

  const left = corrSide[i] === "l";
  g.append("text").attr("x", left ? 7 : W - 12).attr("y", 26)
    .attr("text-anchor", left ? "start" : "end")
    .attr("font-family", "'Open Sans', sans-serif").attr("font-weight", 300)
    .attr("font-size", 25).attr("fill", "#111")
    .text(corrLabels[i]);
});
</script>
</body></html>
